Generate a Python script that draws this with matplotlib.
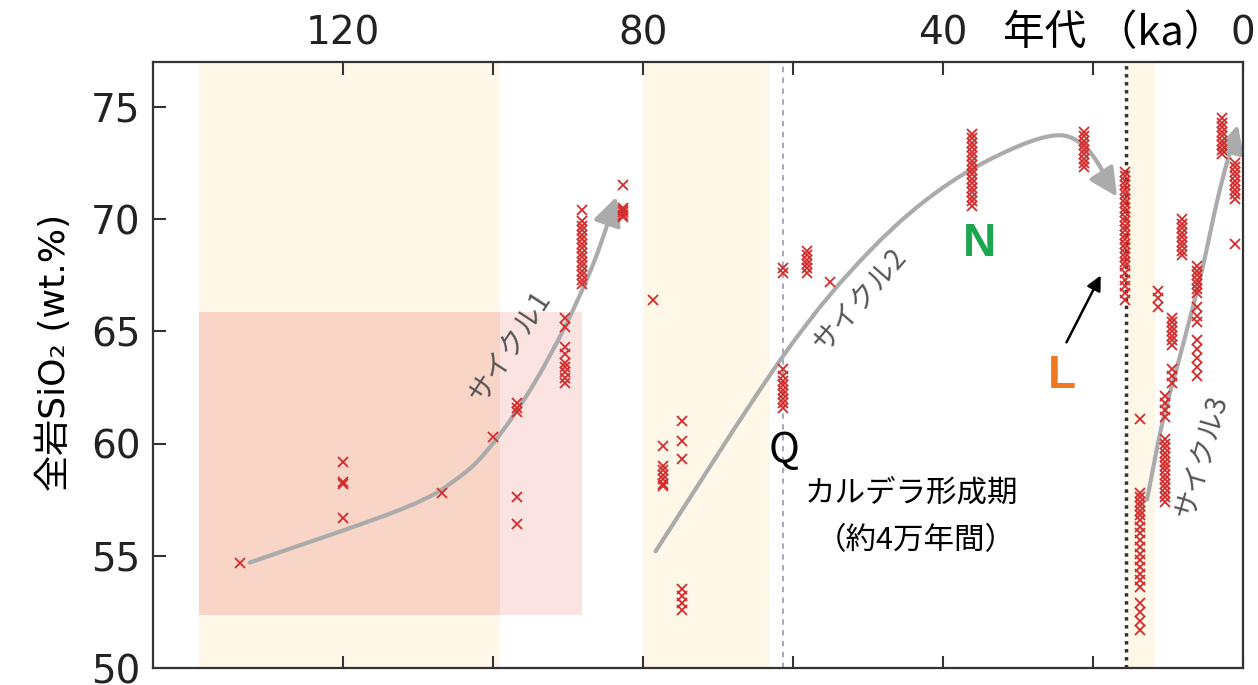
import numpy as np
import matplotlib.pyplot as plt
from matplotlib.path import Path
from matplotlib.patches import FancyArrowPatch, Rectangle

plt.rcParams['font.family'] = ['DejaVu Sans', 'Noto Sans CJK JP']

# sample groups: age (ka) and whole-rock SiO2 (wt.%) of every sample in the group
age_ka = [133.7, 120.0, 106.8, 100.0, 96.8, 90.4, 88.1, 82.7, 78.7, 77.3, 74.8,
          61.3, 58.1, 55.0, 36.1, 21.2, 15.7, 13.7, 11.3, 10.4, 9.5, 8.1, 6.1, 2.8, 1.1]
sio2 = [
    [54.7],
    [59.2, 58.3, 58.2, 56.7],
    [57.8],
    [60.3],
    [61.8, 61.6, 61.4, 57.6, 56.4],
    [65.6, 65.2, 64.3, 64.0, 63.6, 63.4, 63.2, 62.9, 62.7],
    [70.4, 69.9, 69.7, 69.5, 69.3, 69.1, 68.9, 68.7, 68.5, 68.3, 68.1, 67.9, 67.7, 67.5, 67.3, 67.1],
    [71.5, 70.5, 70.4, 70.3, 70.2, 70.1],
    [66.4],
    [59.9, 59.0, 58.8, 58.6, 58.4, 58.2, 58.1],
    [61.0, 60.1, 59.3, 53.5, 53.2, 52.9, 52.6],
    [67.8, 67.6, 63.3, 63.0, 62.8, 62.6, 62.4, 62.2, 62.0, 61.8, 61.6],
    [68.6, 68.4, 68.2, 68.0, 67.8, 67.6],
    [67.2],
    [73.8, 73.6, 73.4, 73.2, 73.0, 72.8, 72.6, 72.4, 72.2, 72.0, 71.8, 71.6, 71.4, 71.2, 71.0, 70.8, 70.6],
    [73.9, 73.7, 73.5, 73.3, 73.1, 72.9, 72.7, 72.5, 72.3],
    [72.1, 71.9, 71.7, 71.5, 71.3, 71.1, 70.9, 70.7, 70.5, 70.3, 70.1, 69.9, 69.7, 69.5, 69.3,
     69.1, 68.9, 68.7, 68.5, 68.3, 68.1, 67.9, 67.6, 67.3, 67.0, 66.7, 66.4],
    [61.1, 57.8, 57.6, 57.4, 57.2, 57.0, 56.8, 56.6, 56.3, 56.0, 55.7, 55.4, 55.1, 54.8, 54.5,
     54.2, 53.9, 53.6, 52.9, 52.5, 52.1, 51.7],
    [66.8, 66.5, 66.1],
    [62.1, 61.8, 61.5, 61.2, 60.2, 60.0, 59.8, 59.6, 59.4, 59.2, 59.0, 58.8, 58.6, 58.4, 58.2,
     58.0, 57.8, 57.6, 57.4],
    [65.6, 65.4, 65.2, 65.0, 64.8, 64.6, 64.4, 63.3, 63.0, 62.7],
    [70.0, 69.8, 69.6, 69.4, 69.2, 69.0, 68.8, 68.6, 68.4],
    [67.9, 67.7, 67.5, 67.3, 67.1, 66.9, 66.7, 66.1, 65.7, 65.4, 64.6, 64.2, 63.8, 63.4, 63.0],
    [74.5, 74.3, 74.1, 73.9, 73.7, 73.5, 73.3, 73.1, 72.9],
    [72.5, 72.3, 72.1, 71.9, 71.7, 71.5, 71.3, 71.1, 70.9, 68.9],
]

# hand-drawn trend arrows (ka, wt.%)
cycle1 = [(132.4, 54.7), (112.0, 57.1), (104.5, 58.5), (100.0, 60.0),
          (95.0, 62.4), (90.4, 65.2), (86.5, 68.1), (83.5, 71.0)]
cycle2 = [(78.3, 55.2), (61.3, 63.9), (49.7, 68.6), (38.7, 71.7), (27.0, 73.6),
          (21.3, 73.3), (16.8, 71.0)]
cycle3 = [(12.8, 57.5), (10.7, 61.0), (8.4, 63.9), (5.7, 67.4), (3.1, 71.3), (0.7, 74.2)]

# shaded periods (ka)
bands = [(139.1, 99.1), (80.0, 63.1), (15.3, 11.7)]
caldera_ka = 61.3
l_ka = 15.6


def smooth_path(pts):
    # catmull-rom through the points, as cubic bezier segments
    pts = np.asarray(pts, float)
    n = len(pts)
    verts = [pts[0]]
    codes = [Path.MOVETO]
    for i in range(n - 1):
        p0 = pts[max(i - 1, 0)]
        p1, p2 = pts[i], pts[i + 1]
        p3 = pts[min(i + 2, n - 1)]
        verts += [p1 + (p2 - p0) / 6, p2 - (p3 - p1) / 6, p2]
        codes += [Path.CURVE4] * 3
    return Path(verts, codes)


fig = plt.figure(figsize=(12.58, 6.85), dpi=100)
ax = fig.add_axes([0.1216, 0.0248, 0.8665, 0.8847])

for a, b in bands:
    ax.axvspan(a, b, color='#fff7e7', lw=0, zorder=0)
# red field (darker where it overlaps the first band)
ax.add_patch(Rectangle((139.1, 52.36), 99.1 - 139.1, 65.86 - 52.36, color='#f8d5c6', lw=0, zorder=0.5))
ax.add_patch(Rectangle((99.1, 52.36), 88.1 - 99.1, 65.86 - 52.36, color='#fbe3e2', lw=0, zorder=0.5))

ax.axvline(caldera_ka, color='#9aa4b8', lw=1.3, ls=(0, (3, 3)), zorder=1)
ax.axvline(l_ka, color='#333333', lw=2.5, ls=(0, (1, 1.3)), zorder=1)

for pts in [cycle1, cycle2, cycle3]:
    arr = FancyArrowPatch(path=smooth_path(pts), arrowstyle='-|>,head_length=0.5,head_width=0.25',
                          mutation_scale=34, color='#ababab', lw=3, zorder=2)
    ax.add_patch(arr)

for a, vals in zip(age_ka, sio2):
    ax.plot([a] * len(vals), vals, 'x', color='#d42c2c', ms=7.5, mew=1.3, zorder=3)

jp = ['Noto Sans CJK JP', 'DejaVu Sans']
ax.text(97.7, 64.3, 'サイクル1', rotation=57, color='#555555', fontsize=20, family=jp,
        ha='center', va='center', zorder=4)
ax.text(51.1, 66.4, 'サイクル2', rotation=49, color='#555555', fontsize=20, family=jp,
        ha='center', va='center', zorder=4)
ax.text(5.6, 59.4, 'サイクル3', rotation=74, color='#555555', fontsize=20, family=jp,
        ha='center', va='center', zorder=4)

ax.text(61.2, 59.7, 'Q', fontsize=30, color='black', family=jp, ha='center', va='center')
ax.text(35.1, 68.9, 'N', fontsize=33, color='#1aa64e', weight='bold', family='Liberation Sans',
        ha='center', va='center')
ax.text(24.1, 63.0, 'L', fontsize=33, color='#f07820', weight='bold', family='Liberation Sans',
        ha='center', va='center')
ax.annotate('', xy=(18.8, 67.6), xytext=(23.7, 64.4),
            arrowprops=dict(arrowstyle='-|>', color='black', lw=1.8, mutation_scale=22))
ax.text(44.2, 57.8, 'カルデラ形成期', fontsize=22, family=jp, ha='center', va='center')
ax.text(43.6, 55.7, '（約4万年間）', fontsize=22, family=jp, ha='center', va='center')

ax.text(17.2, 78.25, '年代 （ka）', fontsize=30, family=jp, ha='center', va='center')

ax.set_xlim(145.3, 0)
ax.set_ylim(50, 77)
ax.set_xticks([120, 80, 40, 0])
ax.set_xticks([100, 60, 20], minor=True)
ax.set_yticks([50, 55, 60, 65, 70, 75])
ax.tick_params(axis='x', which='both', top=True, bottom=True, labeltop=True, labelbottom=False,
               direction='in', length=9, width=1.5, color='#333333', labelsize=28, pad=7,
               labelcolor='#222222')
ax.tick_params(axis='y', direction='in', length=9, width=1.5, color='#333333', labelsize=28, pad=9,
               labelcolor='#222222')
for s in ax.spines.values():
    s.set_linewidth(1.6)
    s.set_color('#333333')

ax.set_ylabel('全岩SiO₂ (wt.%)', fontsize=26, family=['DejaVu Sans', 'Noto Sans CJK JP'])
ax.yaxis.set_label_coords(-0.074, 0.52)

fig.savefig('out.png', dpi=100)
